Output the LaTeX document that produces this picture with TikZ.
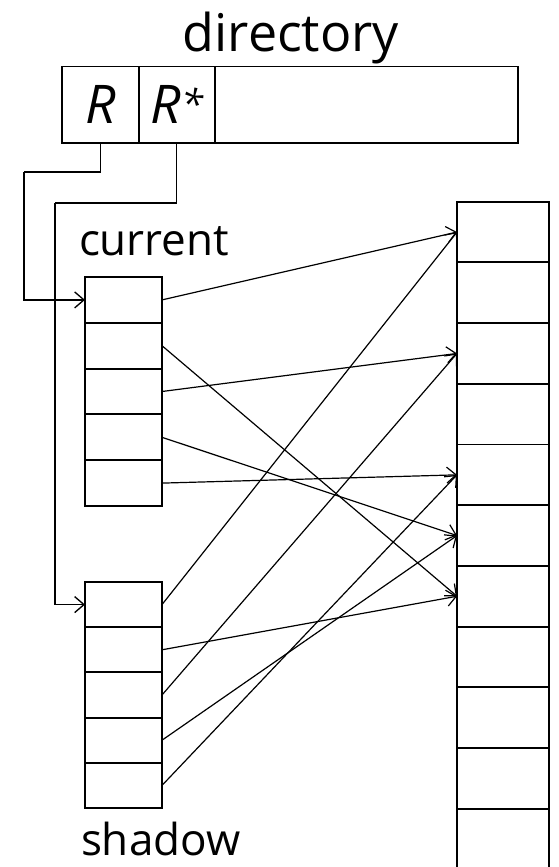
\documentclass[tikz,border=0pt]{standalone}
\usepackage{fontspec}
\setmainfont{Open Sans}
\usetikzlibrary{arrows.meta}
\begin{document}
\begin{tikzpicture}[x=0.75pt,y=-0.75pt,
  cell/.style={draw, line width=1.45pt, inner sep=0pt, outer sep=0pt, minimum width=57.75pt},
  curcell/.style={cell, minimum height=34.35pt},
  shcell/.style={cell, minimum height=33.9pt},
  blk/.style={draw, line width=1.45pt, inner sep=0pt, outer sep=0pt, minimum width=69pt, minimum height=45.5pt},
  dircell/.style={draw, line width=1.45pt, inner sep=0pt, outer sep=0pt, minimum height=57.4pt, font=\fontsize{40}{40}\selectfont\itshape},
  lbl/.style={inner sep=0pt, outer sep=0pt},
  link/.style={line width=0.9pt, -{Straight Barb[length=7pt,width=12pt]}},
  wire/.style={line width=1pt}
]
\useasboundingbox (0,0) rectangle (559,867);

% directory
\node[lbl, anchor=base, font=\fontsize{39}{39}\selectfont] (dirlabel) at (291,52) {directory};
\node[dircell, minimum width=57.75pt] (dR) at (100.5,104.75) {R};
\node[dircell, minimum width=56.7pt] (dRs) at (176.8,104.75) {R\raisebox{4pt}{\fontsize{30}{30}\selectfont *}};
\node[dircell, minimum width=227.55pt] (dRest) at (366.3,104.75) {};

% current table
\node[lbl, anchor=base west, font=\fontsize{33}{33}\selectfont] (curlabel) at (79,255) {current};
\foreach \i/\y in {1/299.9,2/345.7,3/391.5,4/437.3,5/483.1}
  \node[curcell] (c\i) at (123.5,\y) {};

% shadow table
\node[lbl, anchor=base west, font=\fontsize{33}{33}\selectfont] (shlabel) at (81,855) {shadow};
\foreach \i/\y in {1/604.6,2/649.8,3/695,4/740.2,5/785.4}
  \node[shcell] (s\i) at (123.5,\y) {};

% blocks
\foreach \i in {1,...,11}
  \node[blk] (r\i) at (503,{201.7+(\i-0.5)*60.7}) {};

% directory pointers
\coordinate (rbend) at (24,172);
\coordinate (rsbend) at (55,203);
\draw[wire] (dR.south) |- (rbend);
\draw[wire, -{Straight Barb[length=7pt,width=12pt]}] (rbend) |- (c1.west);
\draw[wire] (dRs.south) |- (rsbend);
\draw[wire, -{Straight Barb[length=7pt,width=12pt]}] (rsbend) |- (s1.west);

% page pointers
\foreach \s/\t in {1/1,2/7,3/3,4/6,5/5} {
  \draw[link] (c\s.east) -- (r\t.west);
  \draw[link] (s\s.east) -- (r\t.west);
}
\end{tikzpicture}
\end{document}
